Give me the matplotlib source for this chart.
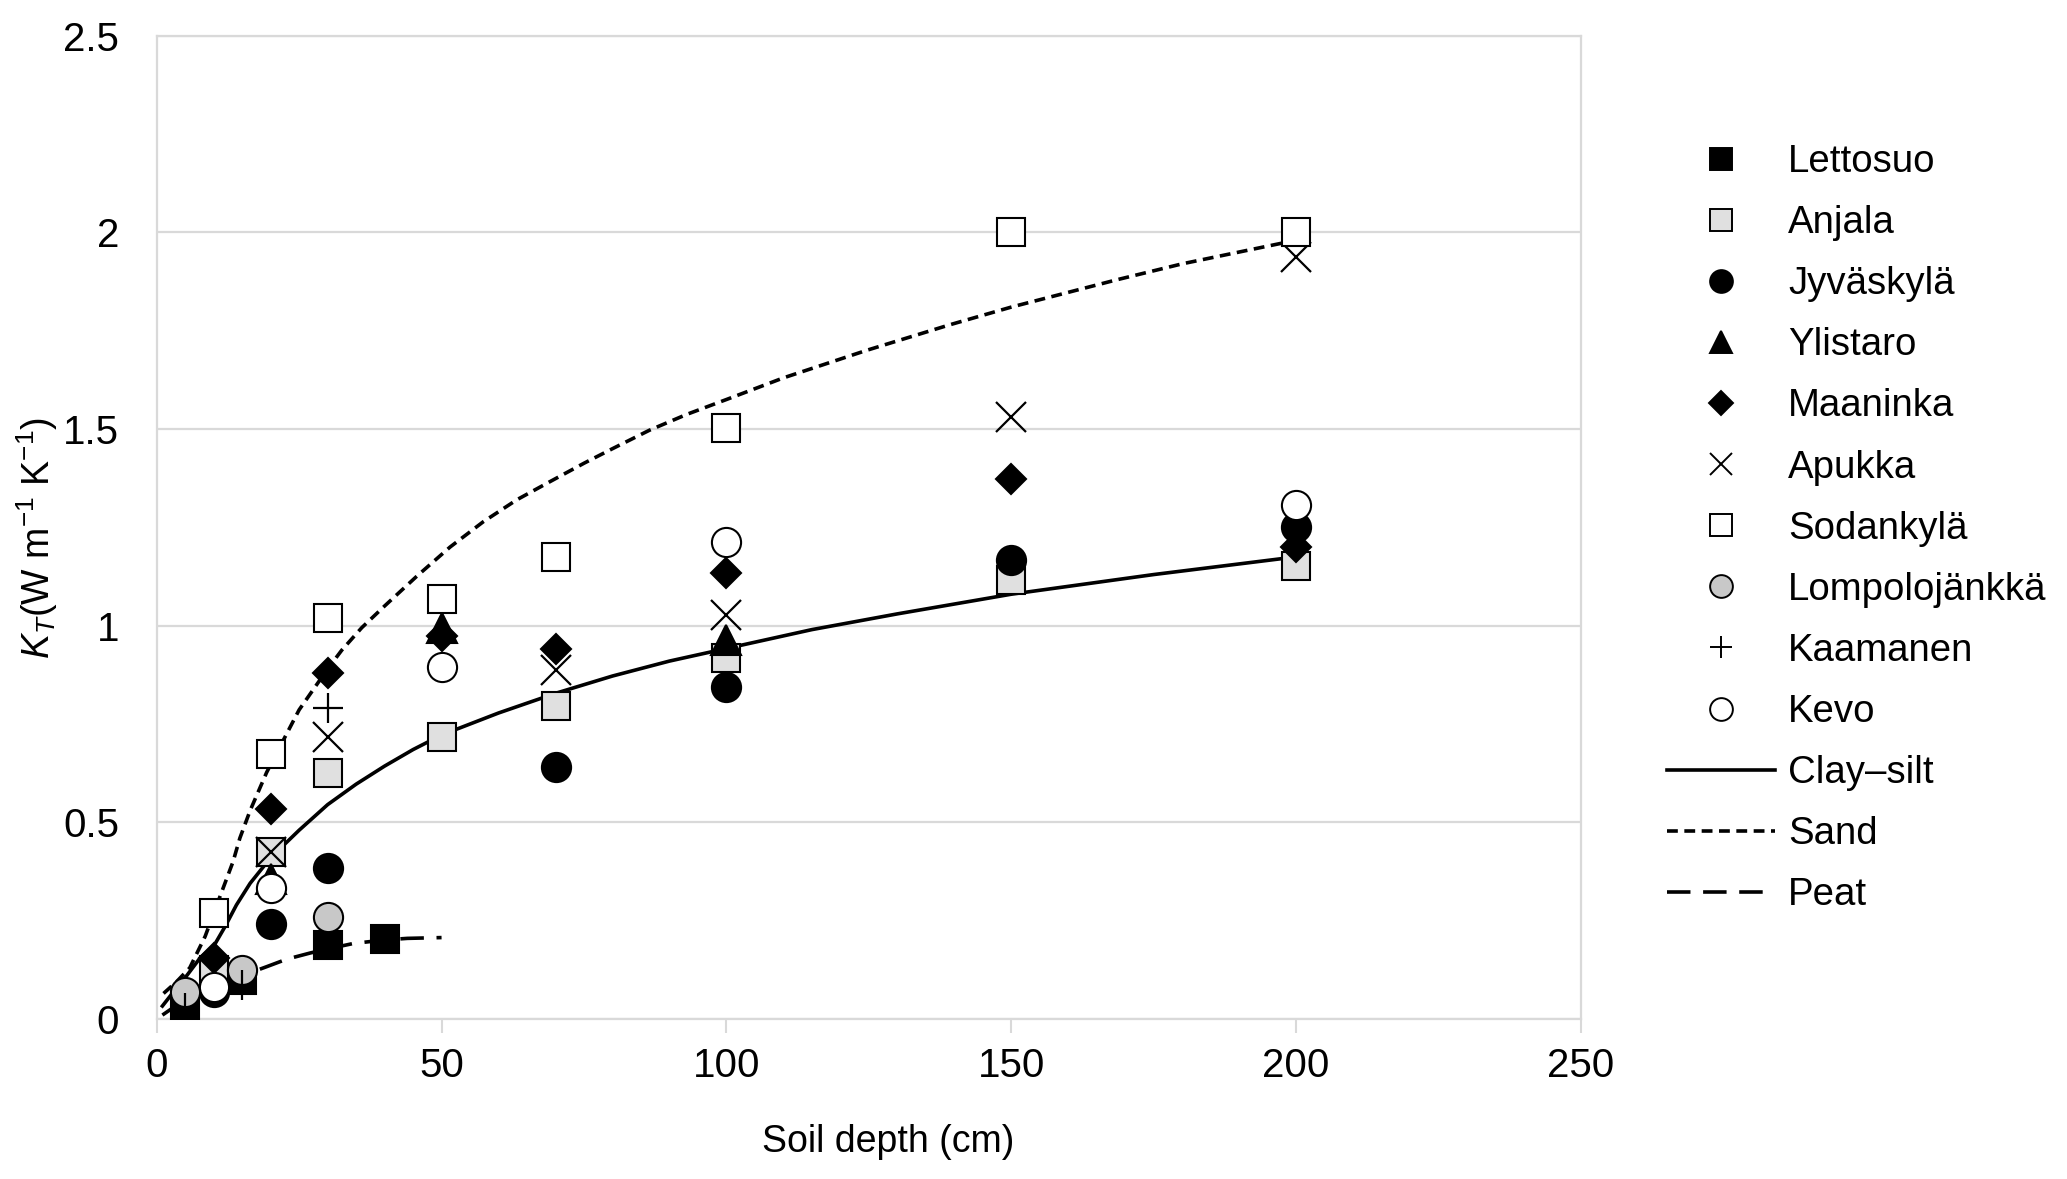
import matplotlib
matplotlib.use("Agg")
import matplotlib.pyplot as plt
from matplotlib.lines import Line2D

plt.rcParams['font.family'] = ['Liberation Sans', 'DejaVu Sans']
plt.rcParams['mathtext.fontset'] = 'custom'
plt.rcParams['mathtext.rm'] = 'Liberation Sans'
plt.rcParams['mathtext.it'] = 'Liberation Sans:italic'

# ---- measured data (depth cm, K_T) ----
lettosuo_x = [5, 15, 30, 40]
lettosuo_y = [0.019, 0.099, 0.188, 0.203]

anjala_x = [10, 20, 30, 50, 70, 100, 150, 200]
anjala_y = [0.125, 0.425, 0.626, 0.718, 0.796, 0.917, 1.116, 1.153]

jyvaskyla_x = [10, 20, 30, 70, 100, 150, 200]
jyvaskyla_y = [0.069, 0.241, 0.385, 0.640, 0.845, 1.167, 1.252]

ylistaro_x = [20, 50, 100]
ylistaro_y = [0.355, 0.995, 0.964]

maaninka_x = [10, 20, 30, 50, 70, 100, 150, 200]
maaninka_y = [0.154, 0.533, 0.879, 0.975, 0.940, 1.135, 1.373, 1.201]

apukka_x = [20, 30, 70, 100, 150, 200]
apukka_y = [0.425, 0.718, 0.887, 1.027, 1.531, 1.937]

sodankyla_x = [10, 20, 30, 50, 70, 100, 150, 200]
sodankyla_y = [0.269, 0.675, 1.019, 1.067, 1.175, 1.502, 2.0, 2.0]

lompolo_x = [5, 15, 30]
lompolo_y = [0.069, 0.125, 0.259]

kaamanen_x = [5, 15, 30]
kaamanen_y = [0.028, 0.087, 0.790]

kevo_x = [10, 20, 50, 100, 200]
kevo_y = [0.082, 0.332, 0.896, 1.214, 1.307]

# ---- fitted curves ----
clay_x = [1, 3, 5, 7.6, 10, 12, 14, 16.4, 20, 25, 30, 35, 40, 45, 50, 60, 70,
          80, 90, 100, 115, 130, 150, 175, 200]
clay_y = [0.033, 0.07, 0.105, 0.155, 0.185, 0.235, 0.29, 0.345, 0.41, 0.48,
          0.545, 0.597, 0.643, 0.685, 0.722, 0.778, 0.828, 0.872, 0.91, 0.942,
          0.99, 1.03, 1.08, 1.13, 1.175]

sand_x = [1.2, 3.5, 5.8, 8.5, 11.2, 13.4, 14.6, 16.4, 19.3, 22.7, 25, 30, 32.5,
          36, 40, 45.6, 51.5, 57.3, 63.2, 69, 75, 80, 86.5, 93, 100, 110,
          124.6, 139.2, 150, 168.4, 180, 190, 200]
sand_y = [0.065, 0.095, 0.13, 0.21, 0.315, 0.40, 0.46, 0.53, 0.627, 0.722,
          0.786, 0.89, 0.938, 0.995, 1.05, 1.125, 1.2, 1.264, 1.32, 1.366,
          1.413, 1.45, 1.497, 1.537, 1.575, 1.63, 1.70, 1.765, 1.81, 1.879,
          1.92, 1.95, 1.98]

peat_x = [1, 5, 10, 15, 19.3, 22.8, 27, 30, 34.5, 40, 44, 50]
peat_y = [0.01, 0.05, 0.085, 0.11, 0.133, 0.152, 0.168, 0.178, 0.192, 0.201,
          0.205, 0.207]

xticks = [0, 50, 100, 150, 200, 250]
yticks = [0, 0.5, 1, 1.5, 2, 2.5]
ytick_labels = ['0', '0.5', '1', '1.5', '2', '2.5']

W, H = 2067, 1179
fig = plt.figure(figsize=(W / 100, H / 100), dpi=100)
ax = fig.add_axes([156.7 / W, 1 - 1019 / H, (1581 - 156.7) / W, (1019 - 35.7) / H])

grid_c = '#d9d9d9'
lw_line = 2.6
ax.plot(clay_x, clay_y, color='black', lw=lw_line, ls='-', zorder=2,
        solid_joinstyle='round')
ax.plot(sand_x, sand_y, color='black', lw=lw_line, ls=(0, (3.0, 1.8)), zorder=2)
ax.plot(peat_x, peat_y, color='black', lw=lw_line, ls=(0, (6.5, 3.5)), zorder=2)

ec = 'black'
mew = 1.5
series = [
    (lettosuo_x, lettosuo_y, 's', 'black', 20),
    (anjala_x, anjala_y, 's', '#e0e0e0', 20),
    (jyvaskyla_x, jyvaskyla_y, 'o', 'black', 21),
    (ylistaro_x, ylistaro_y, '^', 'black', 21),
    (maaninka_x, maaninka_y, 'D', 'black', 15.5),
    (apukka_x, apukka_y, 'x', 'none', 21),
    (sodankyla_x, sodankyla_y, 's', 'white', 20),
    (lompolo_x, lompolo_y, 'o', '#c8c8c8', 21),
    (kaamanen_x, kaamanen_y, '+', 'none', 21),
    (kevo_x, kevo_y, 'o', 'white', 21),
]
z = 3
for xs, ys, m, fc, ms in series:
    if m in ('x', '+'):
        ax.plot(xs, ys, ls='none', marker=m, ms=ms, mec='black', mew=1.6, zorder=z)
    else:
        ax.plot(xs, ys, ls='none', marker=m, ms=ms, mfc=fc, mec=ec, mew=mew, zorder=z)
    z += 1

ax.set_xlim(0, 250)
ax.set_ylim(0, 2.5)
ax.set_xticks(xticks)
ax.set_yticks(yticks)
ax.set_yticklabels(ytick_labels)
ax.yaxis.grid(True, color=grid_c, lw=1.6)
ax.set_axisbelow(True)
for s in ax.spines.values():
    s.set_color(grid_c)
    s.set_linewidth(1.6)
ax.tick_params(axis='x', length=10, width=1.5, color=grid_c, pad=10,
               labelsize=29, direction='out')
ax.tick_params(axis='y', length=0, pad=27, labelsize=29)

fig.text(888 / W, 1 - 1142 / H, 'Soil depth (cm)', ha='center', va='center',
         fontsize=27)
fig.text(37 / W, 1 - 538 / H, r'$K_T$(W m$^{-1}$ K$^{-1}$)', ha='center',
         va='center', rotation=90, fontsize=27)

names = ['Lettosuo', 'Anjala', 'Jyväskylä', 'Ylistaro', 'Maaninka', 'Apukka',
         'Sodankylä', 'Lompolojänkkä', 'Kaamanen', 'Kevo']
handles = []
for (xs, ys, m, fc, ms), nm in zip(series, names):
    if m in ('x', '+'):
        h = Line2D([], [], ls='none', marker=m, ms=ms * 0.78, mec='black', mew=1.4)
    else:
        h = Line2D([], [], ls='none', marker=m, ms=ms * 0.78, mfc=fc, mec=ec, mew=1.4)
    handles.append(h)
handles.append(Line2D([], [], color='black', lw=lw_line, ls='-'))
handles.append(Line2D([], [], color='black', lw=lw_line, ls=(0, (3.0, 1.8))))
handles.append(Line2D([], [], color='black', lw=lw_line, ls=(0, (6.5, 3.5))))
labels = names + ['Clay\u2013silt', 'Sand', 'Peat']

fig.legend(handles, labels, loc='upper left',
           bbox_to_anchor=(1667 / W, 1 - 144 / H), frameon=False, fontsize=27.6,
           handlelength=2.82, handletextpad=0.34, labelspacing=0.655,
           borderpad=0, borderaxespad=0)

fig.savefig('out.png', dpi=100)
